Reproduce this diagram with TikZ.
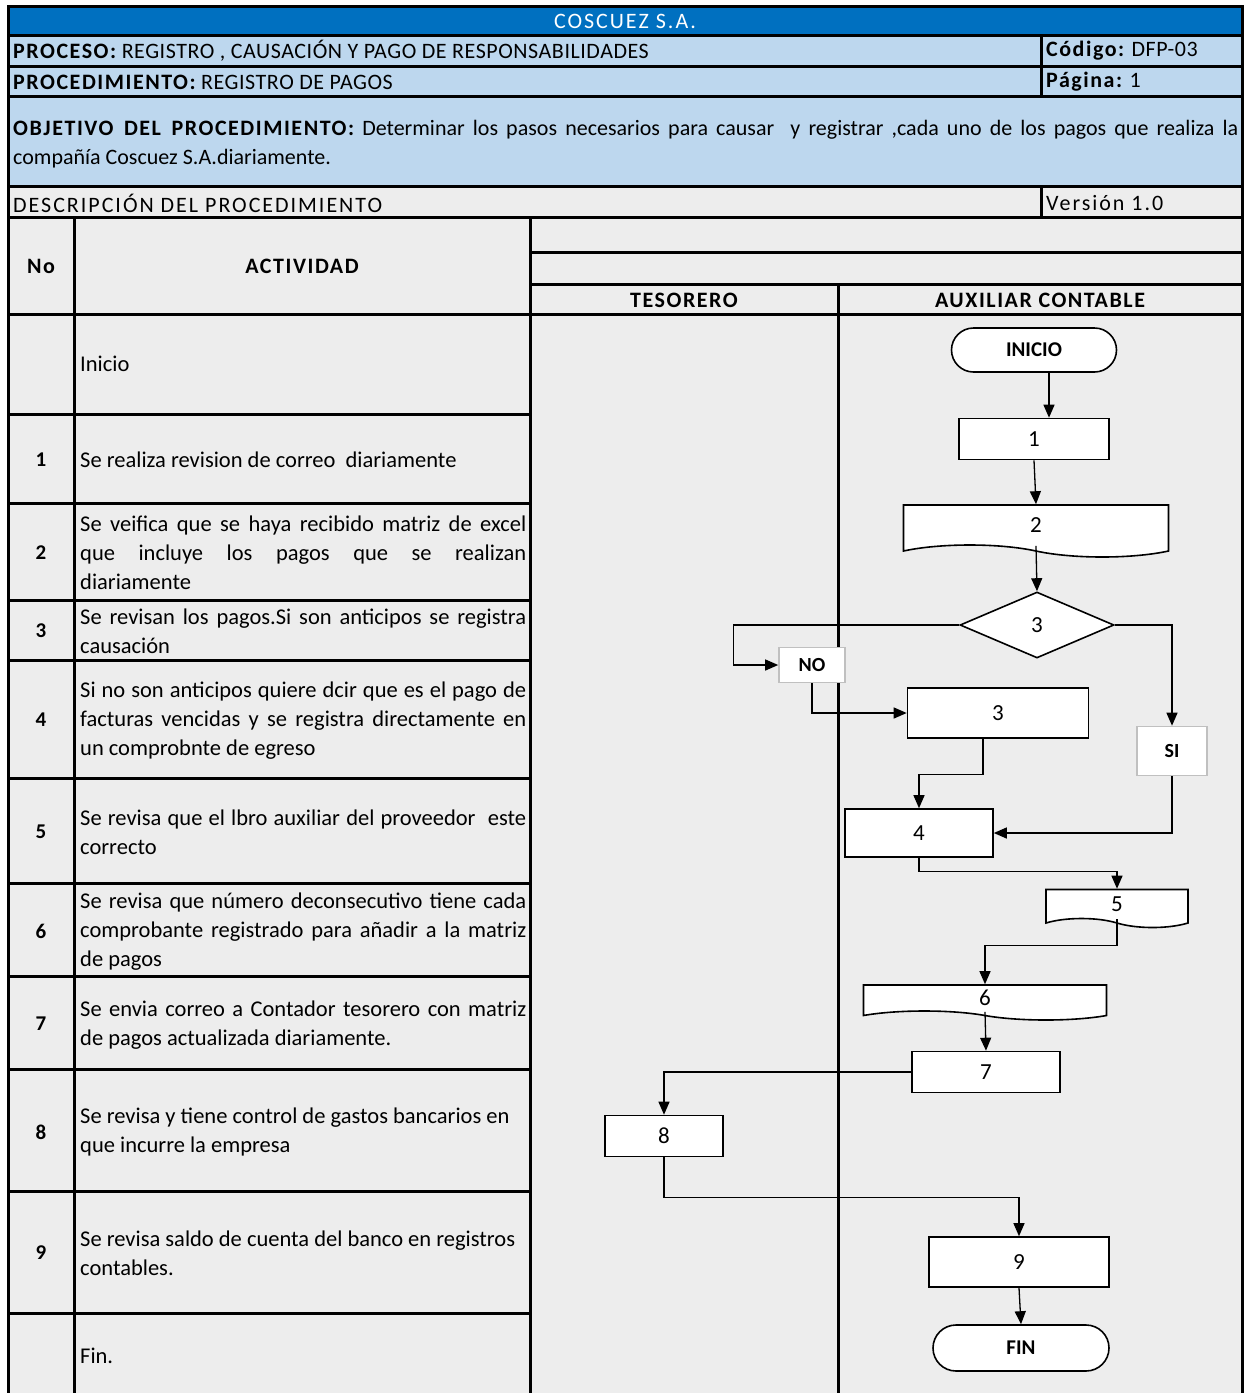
\documentclass[tikz,border=0pt]{standalone}
\usepackage{fontspec}
\setmainfont{Carlito}
\newfontfamily\spaced[LetterSpace=9]{Carlito}
\newfontfamily\spacedb[LetterSpace=7]{Carlito}
\newfontfamily\leve[LetterSpace=2.5]{Carlito}
\usetikzlibrary{shapes.geometric,shapes.symbols,arrows.meta}
\definecolor{azul}{HTML}{0070C0}
\definecolor{celeste}{HTML}{BDD7EE}
\definecolor{gris}{HTML}{EDEDED}
\definecolor{borde}{HTML}{C0C0C0}

\begin{document}
\begin{tikzpicture}[x=1pt,y=-1pt,
	grueso/.style={line width=3pt},
	cab/.style={anchor=west,inner sep=0pt,font=\fontsize{22}{29}\selectfont\leve},
	titulo/.style={inner sep=0pt,font=\fontsize{22}{29}\selectfont\spaced},
	columna/.style={inner sep=0pt,font=\fontsize{22}{29}\selectfont\spacedb\bfseries},
	act/.style={anchor=west,inner sep=0pt,text width=446pt,align=justify,font=\fontsize{22.5}{29}\selectfont},
	actl/.style={anchor=west,inner sep=0pt,align=left,font=\fontsize{22.5}{29}\selectfont},
	num/.style={inner sep=0pt,font=\fontsize{21}{29}\selectfont\bfseries},
	caja/.style={draw,line width=1.6pt,fill=white,inner sep=0pt,font=\fontsize{23}{24}\selectfont},
	doc/.style={caja,tape,tape bend top=none,tape bend bottom=out and in},
	rotulo/.style={draw=borde,line width=1.6pt,fill=white,inner sep=0pt,font=\fontsize{20}{24}\selectfont\bfseries},
	flecha/.style={line width=1.3pt,-{Triangle[length=13pt,width=11pt]}}
	]
	\useasboundingbox (0,0) rectangle (1244,1393);
	\fill[white] (0,0) rectangle (1244,1393);
	\fill[gris] (8,6) rectangle (1242,1393);
	\fill[azul] (8,6) rectangle (1242,35);
	\fill[celeste] (8,35) rectangle (1242,186);

	\draw[grueso] (8,1393) -- (8,6) -- (1242,6) -- (1242,1393);
	\draw[grueso] (8,35) -- (1242,35);
	\draw[grueso] (8,66) -- (1242,66);
	\draw[grueso] (8,96) -- (1242,96);
	\draw[grueso] (8,186) -- (1242,186);
	\draw[grueso] (8,217) -- (1242,217);
	\draw[grueso] (1041,35) -- (1041,96);
	\draw[grueso] (1041,186) -- (1041,217);
	\draw[grueso] (530,252) -- (1242,252);
	\draw[grueso] (530,284) -- (1242,284);
	\draw[grueso] (8,314) -- (1242,314);
	\draw[grueso] (74,217) -- (74,1393);
	\draw[grueso] (530,217) -- (530,1393);
	\draw[grueso] (838,284) -- (838,1393);
	\draw[grueso] (8,414) -- (532,414);
	\draw[grueso] (8,503) -- (532,503);
	\draw[grueso] (8,600) -- (532,600);
	\draw[grueso] (8,660) -- (532,660);
	\draw[grueso] (8,778) -- (532,778);
	\draw[grueso] (8,883) -- (532,883);
	\draw[grueso] (8,976) -- (532,976);
	\draw[grueso] (8,1069) -- (532,1069);
	\draw[grueso] (8,1191) -- (532,1191);
	\draw[grueso] (8,1313) -- (532,1313);

	\node[titulo,text=white] (empresa) at (625,21) {COSCUEZ S.A.};
	\node[cab] (proceso) at (13,51) {{\bfseries\spacedb PROCESO:} REGISTRO , CAUSACIÓN Y PAGO DE RESPONSABILIDADES};
	\node[cab] (codigo) at (1046,51) {{\bfseries\spacedb Código:} DFP-03};
	\node[cab] (procedimiento) at (13,82) {{\bfseries\spacedb PROCEDIMIENTO:} REGISTRO DE PAGOS};
	\node[cab] (pagina) at (1046,82) {{\bfseries\spacedb Página:} 1};
	\node[cab,text width=1225pt,align=justify,font=\fontsize{22}{29}\selectfont] (objetivo) at (13,144) {{\bfseries\spacedb OBJETIVO DEL PROCEDIMIENTO:} Determinar los pasos necesarios para causar \ y registrar ,cada uno de los pagos que realiza la\linebreak compañía Coscuez S.A.diariamente.};
	\node[cab,font=\fontsize{22}{29}\selectfont\spaced] (descripcion) at (13,203) {DESCRIPCIÓN DEL PROCEDIMIENTO};
	\node[cab,font=\fontsize{22}{29}\selectfont\spaced] (version) at (1046,203) {Versión 1.0};
	\node[columna] (no) at (41,266) {No};
	\node[columna] (actividad) at (302,266) {ACTIVIDAD};
	\node[columna] (tesorero) at (684,300) {TESORERO};
	\node[columna] (auxiliar) at (1040,300) {AUXILIAR CONTABLE};

	\node[num] (n1) at (41,460) {1};
	\node[num] (n2) at (41,553) {2};
	\node[num] (n3) at (41,631) {3};
	\node[num] (n4) at (41,720) {4};
	\node[num] (n5) at (41,832) {5};
	\node[num] (n6) at (41,931) {6};
	\node[num] (n7) at (41,1024) {7};
	\node[num] (n8) at (41,1132) {8};
	\node[num] (n9) at (41,1253) {9};

	\node[act] (a0) at (80,364) {Inicio};
	\node[act] (a1) at (80,460) {Se realiza revision de correo \ diariamente};
	\node[act] (a2) at (80,553) {Se veifica que se haya recibido matriz de excel\linebreak que incluye los pagos que se realizan\linebreak diariamente};
	\node[act] (a3) at (80,631) {Se revisan los pagos.Si son anticipos se registra\linebreak causación};
	\node[act] (a4) at (80,721) {Si no son anticipos quiere dcir que es el pago de\linebreak facturas vencidas y se registra directamente en\linebreak un comprobnte de egreso};
	\node[act] (a5) at (80,832) {Se revisa que el lbro auxiliar del proveedor \ este\linebreak correcto};
	\node[act] (a6) at (80,932) {Se revisa que número deconsecutivo tiene cada\linebreak comprobante registrado para añadir a la matriz\linebreak de pagos};
	\node[act] (a7) at (80,1025) {Se envia correo a Contador tesorero con matriz\linebreak de pagos actualizada diariamente.};
	\node[actl] (a8) at (80,1132) {Se revisa y tiene control de gastos bancarios en\\que incurre la empresa};
	\node[actl] (a9) at (80,1253) {Se revisa saldo de cuenta del banco en registros\\contables.};
	\node[act] (a10) at (80,1356) {Fin.};

	\node[caja,rounded corners=22pt,minimum width=165pt,minimum height=44pt,font=\fontsize{21}{24}\selectfont\bfseries] (ini) at (1034,350) {INICIO};
	\node[caja,minimum width=150pt,minimum height=41pt] (b1) at (1034,439) {1};
	\node[doc,minimum width=265pt,minimum height=52pt,tape bend height=12pt] (d2) at (1036,525) {2};
	\node[caja,diamond,aspect=2.33,minimum width=154pt,minimum height=66pt] (dec) at (1037,625) {3};
	\node[rotulo,minimum width=66pt,minimum height=35pt] (nobox) at (812,665) {NO};
	\node[caja,minimum width=181pt,minimum height=50pt] (b3) at (998,713) {3};
	\node[rotulo,minimum width=70pt,minimum height=49pt] (sibox) at (1172,751) {SI};
	\node[caja,minimum width=148pt,minimum height=48pt] (b4) at (919,833) {4};
	\node[doc,minimum width=142pt,minimum height=38pt,tape bend height=9pt] (d5) at (1117,904) {5};
	\node[doc,minimum width=243pt,minimum height=35pt,tape bend height=9pt] (d6) at (985,998) {6};
	\node[caja,minimum width=148pt,minimum height=41pt] (b7) at (986,1072) {7};
	\node[caja,minimum width=118pt,minimum height=41pt] (b8) at (664,1136) {8};
	\node[caja,minimum width=180pt,minimum height=50pt] (b9) at (1019,1262) {9};
	\node[caja,rounded corners=23pt,minimum width=176pt,minimum height=46pt,font=\fontsize{21}{24}\selectfont\bfseries] (fin) at (1021,1348) {FIN};

	\draw[flecha] ([xshift=15pt]ini.south) -- ([xshift=15pt]b1.north);
	\draw[flecha] (b1.south) -- (d2.north);
	\draw[flecha] (d2.south) -- (dec.north);
	\draw[flecha] (dec.west) -- ++(-226,0) |- (nobox.west);
	\draw[flecha] (nobox.south) |- (b3.west);
	\draw[flecha] ([xshift=-15pt]b3.south) -- ++(0,36) -| (b4.north);
	\draw[flecha] (dec.east) -| (sibox.north);
	\draw[flecha] (sibox.south) |- (b4.east);
	\draw[flecha] (b4.south) -- ++(0,14) -| (d5.north);
	\draw[flecha] (d5.south) -- ++(0,26) -| (d6.north);
	\draw[flecha] (d6.south) -- (b7.north);
	\draw[flecha] (b7.west) -| (b8.north);
	\draw[flecha] (b8.south) -- ++(0,40) -| (b9.north);
	\draw[flecha] (b9.south) -- (fin.north);
\end{tikzpicture}
\end{document}
